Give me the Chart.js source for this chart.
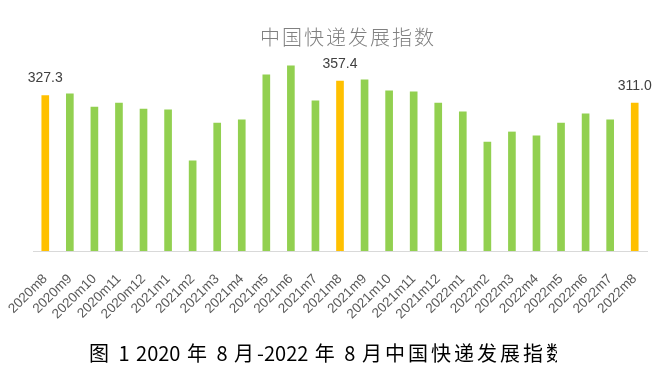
<!DOCTYPE html>
<html>
<head>
<meta charset="utf-8">
<script src="https://cdn.jsdelivr.net/npm/chart.js@4/dist/chart.umd.min.js"></script>
<style>
  html, body { margin: 0; padding: 0; background: #ffffff; }
  #wrap { position: relative; width: 659px; height: 381px; overflow: hidden; }
  #c { position: absolute; left: 0; top: 0; }
  #title { position: absolute; left: 260px; top: 25px; font-family: "Noto Sans CJK SC", sans-serif; font-size: 20px; line-height: 24px; color: #808080; letter-spacing: 2px; white-space: nowrap; font-weight: 300; }
  #caption { position: absolute; left: 89px; top: 340px; width: 468px; overflow: hidden; font-family: "Noto Sans CJK SC", sans-serif; font-size: 20px; line-height: 26px; color: #000; white-space: nowrap; font-weight: 400; word-spacing: 2px; }
  #caption .cj { letter-spacing: 3px; }
</style>
</head>
<body>
<div id="wrap">
  <canvas id="c" width="659" height="381"></canvas>
  <div id="title">中国快递发展指数</div>
  <div id="caption"><span class="cj">图</span> 1 2020 <span class="cj">年</span> 8 <span class="cj">月</span>-2022 <span class="cj">年</span> 8 <span class="cj">月中国快递发展指数</span></div>
</div>
<script>
const categories = ["2020m8","2020m9","2020m10","2020m11","2020m12","2021m1","2021m2","2021m3","2021m4","2021m5","2021m6","2021m7","2021m8","2021m9","2021m10","2021m11","2021m12","2022m1","2022m2","2022m3","2022m4","2022m5","2022m6","2022m7","2022m8"];
const indexValues = [327.3,330.5,303.1,311.5,298.9,296.8,189.5,269.4,275.8,370.5,389.4,315.8,357.4,360.0,336.8,334.7,311.5,292.6,229.4,250.5,242.1,269.4,288.4,275.8,311.0];
const labelledBars = ["2020m8","2021m8","2022m8"];

const ORANGE = "#FFC000", GREEN = "#92D050";
const barColors = categories.map(c => labelledBars.includes(c) ? ORANGE : GREEN);

const valueLabels = {
  id: "valueLabels",
  afterDatasetsDraw(chart) {
    const ctx = chart.ctx;
    const meta = chart.getDatasetMeta(0);
    ctx.save();
    ctx.font = "14px 'Liberation Sans', Arial, sans-serif";
    ctx.fillStyle = "#404040";
    ctx.textAlign = "center";
    ctx.textBaseline = "alphabetic";
    meta.data.forEach((bar, i) => {
      if (labelledBars.includes(categories[i])) {
        ctx.fillText(indexValues[i].toFixed(1), bar.x, bar.y - 13);
      }
    });
    ctx.restore();
  }
};

new Chart(document.getElementById("c"), {
  type: "bar",
  data: {
    labels: categories,
    datasets: [{ data: indexValues, backgroundColor: barColors, barThickness: 7 }]
  },
  options: {
    responsive: false,
    animation: false,
    layout: { padding: { left: 33, right: 12, top: 40, bottom: 60 } },
    plugins: { legend: { display: false }, title: { display: false }, tooltip: { enabled: false } },
    scales: {
      x: {
        grid: { display: false, drawTicks: false },
        border: { display: true, color: "#D9D9D9", width: 1 },
        ticks: {
          minRotation: 45, maxRotation: 45, autoSkip: false, padding: 20,
          color: "#595959",
          font: { family: "'Liberation Sans', Arial, sans-serif", size: 13.5 }
        },
        afterFit(scale) { scale.height = 70; scale.paddingLeft = 0; scale.paddingRight = 0; }
      },
      y: { display: false, min: 0, max: 444 }
    }
  },
  plugins: [valueLabels]
});
</script>
</body>
</html>
